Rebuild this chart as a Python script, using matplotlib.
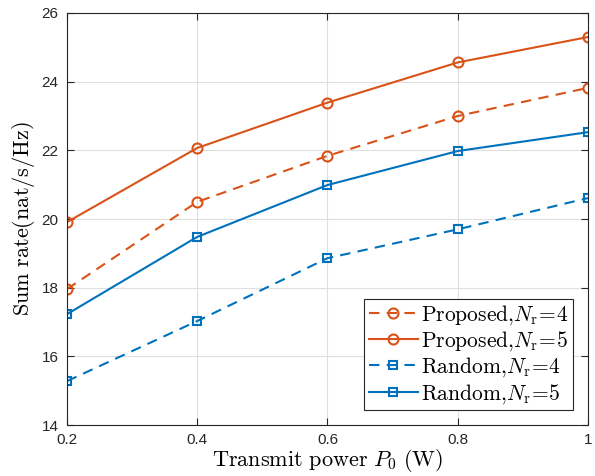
import matplotlib
matplotlib.use('Agg')
import matplotlib.pyplot as plt

plt.rcParams['mathtext.fontset'] = 'cm'
plt.rcParams['font.family'] = ['Liberation Sans', 'DejaVu Sans']

# Data
power = [0.2, 0.4, 0.6, 0.8, 1.0]
proposed_nr4 = [17.96, 20.50, 21.84, 23.00, 23.82]
proposed_nr5 = [19.91, 22.07, 23.39, 24.56, 25.30]
random_nr4 = [15.28, 17.03, 18.86, 19.70, 20.61]
random_nr5 = [17.23, 19.48, 20.99, 21.98, 22.53]

xticks = [0.2, 0.4, 0.6, 0.8, 1.0]
xticklabels = ['0.2', '0.4', '0.6', '0.8', '1']
yticks = [14, 16, 18, 20, 22, 24, 26]

ORANGE = '#D95319'
BLUE = '#0072BD'
AXC = '#262626'

fig = plt.figure(figsize=(5.95, 4.76), dpi=100, facecolor='white')
ax = fig.add_axes([0.1126, 0.107, 0.8756, 0.8657])

ax.plot(power, proposed_nr4, '--o', color=ORANGE, lw=1.5, ms=7.2, mfc='none', mew=1.5,
        dashes=(5, 3.5), label=r'$\mathrm{Proposed{,}}N_{\mathrm{r}}\!=\!4$')
ax.plot(power, proposed_nr5, '-o', color=ORANGE, lw=1.5, ms=7.2, mfc='none', mew=1.5,
        label=r'$\mathrm{Proposed{,}}N_{\mathrm{r}}\!=\!5$')
ax.plot(power, random_nr4, '--s', color=BLUE, lw=1.5, ms=5.2, mfc='none', mew=1.5,
        dashes=(5, 3.5), label=r'$\mathrm{Random{,}}N_{\mathrm{r}}\!=\!4$')
ax.plot(power, random_nr5, '-s', color=BLUE, lw=1.5, ms=5.2, mfc='none', mew=1.5,
        label=r'$\mathrm{Random{,}}N_{\mathrm{r}}\!=\!5$')

ax.set_xlim(0.2, 1.0)
ax.set_ylim(14, 26)
ax.set_xticks(xticks)
ax.set_xticklabels(xticklabels)
ax.set_yticks(yticks)
ax.tick_params(direction='in', top=True, right=True, labelsize=11, colors=AXC,
               length=5, width=0.8, pad=6)
for s in ax.spines.values():
    s.set_color(AXC)
    s.set_linewidth(0.8)
ax.grid(True, color='#DFDFDF', lw=0.8)
ax.set_axisbelow(True)

ax.set_xlabel(r'$\mathrm{Transmit\ power\ }P_0\mathrm{\ (W)}$', fontsize=16, labelpad=0)
ax.set_ylabel(r'$\mathrm{Sum\ rate(nat/s/Hz)}$', fontsize=16, labelpad=3)

leg = ax.legend(loc='lower right', fontsize=15.5, frameon=True, fancybox=False,
                edgecolor=AXC, framealpha=1, borderpad=0.2, labelspacing=0.12,
                handlelength=2.3, handletextpad=0.15, borderaxespad=0.7)
leg.get_frame().set_linewidth(0.8)

fig.savefig('out.png', dpi=100, facecolor='white')
